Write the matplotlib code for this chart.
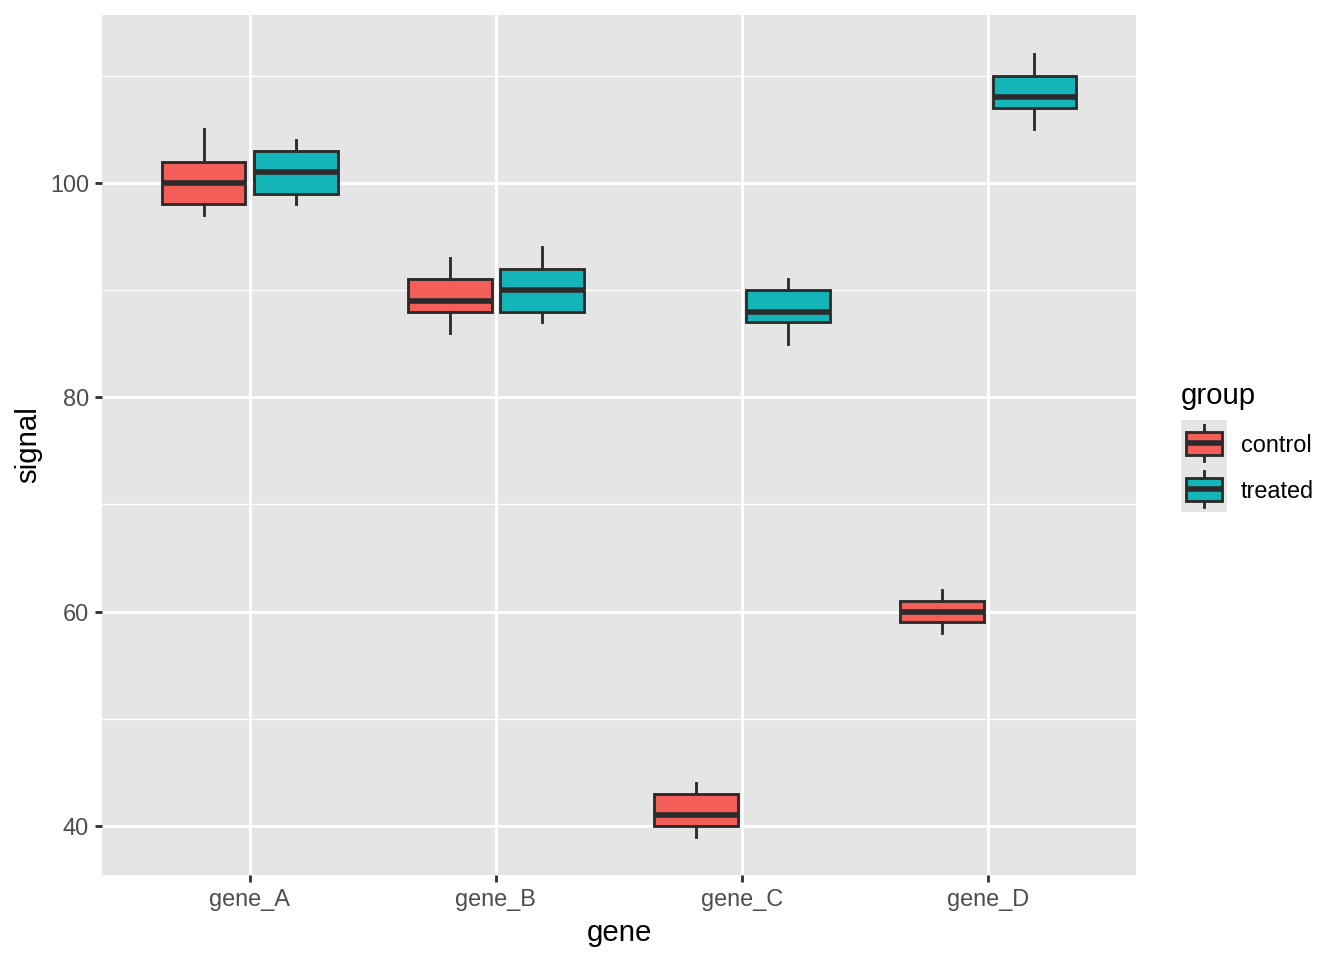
import matplotlib
matplotlib.use("Agg")
import matplotlib.pyplot as plt
from matplotlib.patches import Rectangle
from matplotlib.lines import Line2D

plt.rcParams['font.family'] = ['Liberation Sans', 'DejaVu Sans']

genes = ["gene_A", "gene_B", "gene_C", "gene_D"]
groups = ["control", "treated"]
colors = {"control": "#F45E59", "treated": "#14B5B8"}

# five-number summaries per gene: [whislo, q1, med, q3, whishi]
control_stats = [
    [97, 98, 100, 102, 105],
    [86, 88, 89, 91, 93],
    [39, 40, 41, 43, 44],
    [58, 59, 60, 61, 62],
]
treated_stats = [
    [98, 99, 101, 103, 104],
    [87, 88, 90, 92, 94],
    [85, 87, 88, 90, 91],
    [105, 107, 108, 110, 112],
]

W, H = 1344, 960
fig = plt.figure(figsize=(7, 5), dpi=192)
fig.patch.set_facecolor("white")

panel = "#E5E5E5"
L, R, T, B = 102, 1136, 15, 875
ax = fig.add_axes([L / W, (H - B) / H, (R - L) / W, (B - T) / H])
ax.set_facecolor(panel)
for s in ax.spines.values():
    s.set_visible(False)

edge = "#2B2B2B"
lw_box = 1.07
lw_med = 2.1
offset = 0.1875
bw = 0.34

for gi, stats_list in enumerate([control_stats, treated_stats]):
    grp = groups[gi]
    st = []
    for i, v in enumerate(stats_list):
        st.append(dict(whislo=v[0], q1=v[1], med=v[2], q3=v[3], whishi=v[4], fliers=[]))
    pos = [i + 1 + (-offset if gi == 0 else offset) for i in range(len(genes))]
    ax.bxp(st, positions=pos, widths=bw, patch_artist=True, showcaps=False,
           boxprops=dict(facecolor=colors[grp], edgecolor=edge, linewidth=lw_box),
           medianprops=dict(color=edge, linewidth=lw_med, solid_capstyle="butt"),
           whiskerprops=dict(color=edge, linewidth=lw_box),
           manage_ticks=False, zorder=3)

ax.set_xlim(0.4, 4.6)
ax.set_ylim(35.43, 115.67)
ax.set_xticks(range(1, len(genes) + 1))
ax.set_xticklabels(genes)
ax.set_yticks([40, 60, 80, 100])
ax.set_yticks([50, 70, 90, 110], minor=True)
ax.grid(True, which="major", color="white", linewidth=1.07, zorder=0)
ax.grid(True, which="minor", axis="y", color="white", linewidth=0.53, zorder=0)
ax.set_axisbelow(True)
ax.tick_params(axis="both", which="major", length=2.75, width=1.07, color="#333333",
               labelsize=8.8, labelcolor="#4D4D4D", pad=2.2)
ax.tick_params(axis="both", which="minor", length=0)
ax.set_xlabel("gene", fontsize=11, color="black", labelpad=3)
ax.set_ylabel("signal", fontsize=11, color="black", labelpad=3)

# legend
kx0, kx1 = 1181, 1227
ky0, ky1 = 420, 512
lax = fig.add_axes([kx0 / W, (H - ky1) / H, (kx1 - kx0) / W, (ky1 - ky0) / H])
lax.set_xlim(0, 1)
lax.set_ylim(0, 2)
lax.axis("off")
lax.add_patch(Rectangle((0, 0), 1, 2, facecolor=panel, edgecolor="none"))
for i, grp in enumerate(groups):
    yb = 2 - (i + 1)
    lax.add_line(Line2D([0.5, 0.5], [yb + 0.1, yb + 0.9], color=edge, linewidth=lw_box))
    lax.add_patch(Rectangle((0.11, yb + 0.25), 0.78, 0.5, facecolor=colors[grp],
                            edgecolor=edge, linewidth=lw_box, zorder=3))
    lax.add_line(Line2D([0.11, 0.89], [yb + 0.5, yb + 0.5], color=edge, linewidth=lw_med,
                        solid_capstyle="butt", zorder=4))
    fig.text(1241 / W, 1 - (446 + i * 46) / H, grp, fontsize=8.8, color="black",
             ha="left", va="center")
fig.text(1181 / W, 1 - 396 / H, "group", fontsize=11, color="black", ha="left", va="center")

fig.savefig("out.png", dpi=192)
